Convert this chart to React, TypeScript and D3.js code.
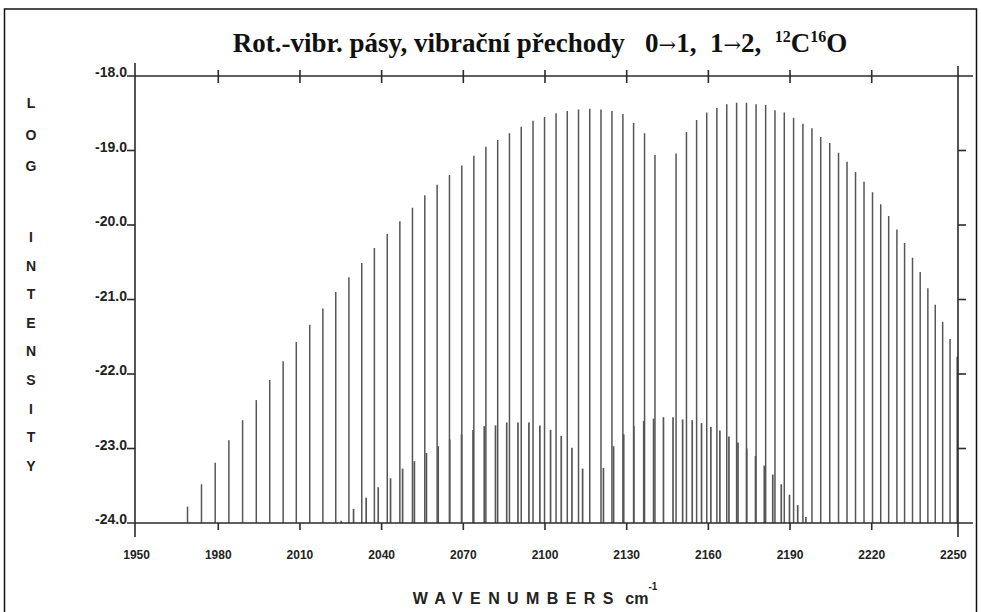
import React, { useEffect, useRef } from "react";
import * as d3 from "d3";

// 0→1 band: P branch (J = 39 … 1) then R branch (J = 0 … 32)
const fundWavenumbers = [
  1968.8, 1973.9, 1978.9, 1983.9, 1988.9, 1993.9, 1998.8, 2003.7, 2008.5, 2013.4,
  2018.2, 2022.9, 2027.7, 2032.4, 2037.0, 2041.7, 2046.3, 2050.9, 2055.4, 2059.9,
  2064.4, 2068.9, 2073.3, 2077.7, 2082.0, 2086.3, 2090.6, 2094.9, 2099.1, 2103.3,
  2107.4, 2111.5, 2115.6, 2119.7, 2123.7, 2127.7, 2131.6, 2135.6, 2139.4,
  2147.1, 2150.9, 2154.6, 2158.3, 2162.0, 2165.6, 2169.2, 2172.8, 2176.3, 2179.8,
  2183.2, 2186.6, 2190.0, 2193.4, 2196.7, 2199.9, 2203.2, 2206.4, 2209.5, 2212.6,
  2215.7, 2218.8, 2221.8, 2224.7, 2227.7, 2230.5, 2233.4, 2236.2, 2239.0, 2241.7,
  2244.4, 2247.1, 2249.7,
];
const fundLogIntensity = [
  -23.78, -23.48, -23.19, -22.89, -22.62, -22.35, -22.08, -21.83, -21.57, -21.34,
  -21.12, -20.9, -20.7, -20.51, -20.31, -20.12, -19.95, -19.77, -19.6, -19.46,
  -19.33, -19.2, -19.07, -18.95, -18.86, -18.77, -18.68, -18.6, -18.55, -18.5,
  -18.47, -18.45, -18.44, -18.45, -18.47, -18.51, -18.63, -18.77, -19.06,
  -19.04, -18.75, -18.59, -18.49, -18.43, -18.38, -18.36, -18.36, -18.38, -18.39,
  -18.46, -18.49, -18.56, -18.64, -18.7, -18.82, -18.9, -19.03, -19.15, -19.29,
  -19.42, -19.56, -19.72, -19.88, -20.06, -20.24, -20.44, -20.63, -20.85, -21.07,
  -21.3, -21.53, -21.77,
];

// 1→2 hot band: P branch (J = 22 … 1) then R branch (J = 0 … 22)
const hotWavenumbers = [
  2024.9, 2029.4, 2034.0, 2038.4, 2042.9, 2047.3, 2051.6, 2056.0, 2060.3, 2064.5,
  2068.8, 2073.0, 2077.1, 2081.2, 2085.3, 2089.4, 2093.4, 2097.4, 2101.3, 2105.2,
  2109.1, 2113.0,
  2120.6, 2124.3, 2128.0, 2131.7, 2135.3, 2138.9, 2142.5, 2146.0, 2149.5, 2153.0,
  2156.4, 2159.8, 2163.1, 2166.4, 2169.7, 2172.9, 2176.1, 2179.3, 2182.4, 2185.5,
  2188.5, 2191.5, 2194.5,
];
const hotLogIntensity = [
  -23.97, -23.81, -23.66, -23.52, -23.4, -23.27, -23.17, -23.06, -22.97, -22.88,
  -22.81, -22.75, -22.7, -22.69, -22.65, -22.65, -22.65, -22.69, -22.75, -22.83,
  -22.99, -23.27,
  -23.26, -22.97, -22.81, -22.7, -22.63, -22.6, -22.58, -22.58, -22.61, -22.62,
  -22.66, -22.71, -22.76, -22.84, -22.92, -23.0, -23.1, -23.23, -23.35, -23.48,
  -23.62, -23.76, -23.92,
];

const xTickValues = [1950, 1980, 2010, 2040, 2070, 2100, 2130, 2160, 2190, 2220, 2250];
const yTickValues = [-18, -19, -20, -21, -22, -23, -24];
const yTitleWords = ["LOG", "INTENSITY"];

const W = 981;
const H = 612;
const AXIS = "#2b2b2b";
const LINE = "#565656";
const SANS = "'Liberation Sans', Arial, sans-serif";

const App = () => {
  const ref = useRef<SVGSVGElement | null>(null);

  useEffect(() => {
    if (!ref.current) return;
    const svg = d3.select(ref.current);
    svg.selectAll("*").remove();

    const left = 136;
    const right = 958;
    const top = 76;
    const bottom = 523;

    // data scale, and the printed tick scale (the scan's ticks sit a little left)
    const x = d3.scaleLinear().domain([1950, 2250]).range([left, right]);
    const xTick = d3.scaleLinear().domain([1950, 2250]).range([136.6, 953.4]);
    const y = d3.scaleLinear().domain([-24, -18]).range([bottom, top]);

    svg.append("rect").attr("width", W).attr("height", H).attr("fill", "#fff");
    svg
      .append("rect")
      .attr("x", 4.5)
      .attr("y", 9)
      .attr("width", 972)
      .attr("height", H + 20)
      .attr("fill", "none")
      .attr("stroke", "#111")
      .attr("stroke-width", 1.5);

    // title
    const title = svg
      .append("text")
      .attr("x", 540)
      .attr("y", 52)
      .attr("text-anchor", "middle")
      .attr("font-family", "'Liberation Serif', 'Times New Roman', serif")
      .attr("font-weight", "bold")
      .attr("font-size", 27)
      .attr("fill", "#111")
      .style("white-space", "pre");
    const arrow = () =>
      title
        .append("tspan")
        .attr("font-family", "'DejaVu Serif', serif")
        .attr("font-weight", "normal")
        .attr("font-size", 21)
        .text("→");
    title.append("tspan").text("Rot.-vibr. pásy, vibrační přechody   0");
    arrow();
    title.append("tspan").text("1,  1");
    arrow();
    title.append("tspan").text("2,  ");
    title.append("tspan").attr("font-size", 16).attr("dy", -10).text("12");
    title.append("tspan").attr("dy", 10).text("C");
    title.append("tspan").attr("font-size", 16).attr("dy", -10).text("16");
    title.append("tspan").attr("dy", 10).text("O");

    // spectral lines
    const g = svg.append("g");
    const lines = (ws: number[], vs: number[], width: number) =>
      g
        .append("g")
        .selectAll("line")
        .data(ws.map((w, i) => ({ w, v: vs[i] })))
        .enter()
        .append("line")
        .attr("x1", (d) => x(d.w))
        .attr("x2", (d) => x(d.w))
        .attr("y1", y(-24))
        .attr("y2", (d) => y(d.v))
        .attr("stroke", LINE)
        .attr("stroke-width", width);
    lines(fundWavenumbers, fundLogIntensity, 1.5);
    lines(hotWavenumbers, hotLogIntensity, 1.7);

    // frame
    const ax = svg.append("g").attr("stroke", AXIS).attr("stroke-width", 1.6);
    ax.append("line").attr("x1", 127).attr("x2", 973).attr("y1", y(-18)).attr("y2", y(-18));
    ax.append("line").attr("x1", 127).attr("x2", 973).attr("y1", y(-24)).attr("y2", y(-24));
    ax.append("line").attr("x1", left - 1).attr("x2", left - 1).attr("y1", 63).attr("y2", 537);
    ax.append("line").attr("x1", right).attr("x2", right).attr("y1", 66).attr("y2", 537);

    const inner = xTickValues.slice(1, -1);
    ax.selectAll(".tt")
      .data(inner)
      .enter()
      .append("line")
      .attr("x1", (d) => xTick(d))
      .attr("x2", (d) => xTick(d))
      .attr("y1", y(-18) - 6)
      .attr("y2", y(-18) + 7);
    ax.selectAll(".bt")
      .data(inner)
      .enter()
      .append("line")
      .attr("x1", (d) => xTick(d))
      .attr("x2", (d) => xTick(d))
      .attr("y1", y(-24))
      .attr("y2", y(-24) + 7);
    const midY = yTickValues.slice(1, -1);
    ax.selectAll(".lt")
      .data(midY)
      .enter()
      .append("line")
      .attr("x1", 127)
      .attr("x2", left - 1)
      .attr("y1", (d) => y(d))
      .attr("y2", (d) => y(d));
    ax.selectAll(".rt")
      .data(midY)
      .enter()
      .append("line")
      .attr("x1", right)
      .attr("x2", right + 8)
      .attr("y1", (d) => y(d))
      .attr("y2", (d) => y(d));

    // tick labels
    svg
      .append("g")
      .selectAll("text")
      .data(yTickValues)
      .enter()
      .append("text")
      .attr("x", 127)
      .attr("y", (d) => y(d) + 1)
      .attr("text-anchor", "end")
      .attr("font-family", SANS)
      .attr("font-weight", "bold")
      .attr("font-size", 14)
      .attr("fill", "#222")
      .text((d) => d3.format(".1f")(d).replace("−", "-"));

    svg
      .append("g")
      .selectAll("text")
      .data(xTickValues)
      .enter()
      .append("text")
      .attr("x", (d) => xTick(d))
      .attr("y", 559)
      .attr("text-anchor", "middle")
      .attr("font-family", SANS)
      .attr("font-weight", "bold")
      .attr("font-size", 12)
      .attr("fill", "#222")
      .text((d) => String(d));

    // axis titles
    const xt = svg
      .append("text")
      .attr("x", 535)
      .attr("y", 604)
      .attr("text-anchor", "middle")
      .attr("font-family", SANS)
      .attr("font-weight", "bold")
      .attr("font-size", 16)
      .attr("fill", "#222")
      .style("white-space", "pre");
    xt.append("tspan").attr("letter-spacing", 7.4).text("WAVENUMBERS");
    xt.append("tspan").text(" cm");
    xt.append("tspan").attr("font-size", 10).attr("dy", -14).text("-1");

    // vertical stacked y title: "LOG" then "INTENSITY"
    const letterTop = [103, 237];
    const letterStep = [31.5, 28.6];
    yTitleWords.forEach((word, wi) => {
      svg
        .append("g")
        .selectAll("text")
        .data(word.split(""))
        .enter()
        .append("text")
        .attr("x", 31)
        .attr("y", (_, i) => letterTop[wi] + i * letterStep[wi] + 5)
        .attr("text-anchor", "middle")
        .attr("font-family", SANS)
        .attr("font-weight", "bold")
        .attr("font-size", 14)
        .attr("fill", "#222")
        .text((d) => d);
    });
  }, []);

  return (
    <svg
      ref={ref}
      width={W}
      height={H}
      style={{ position: "absolute", left: 0, top: 0, display: "block" }}
    />
  );
};

export default App;
